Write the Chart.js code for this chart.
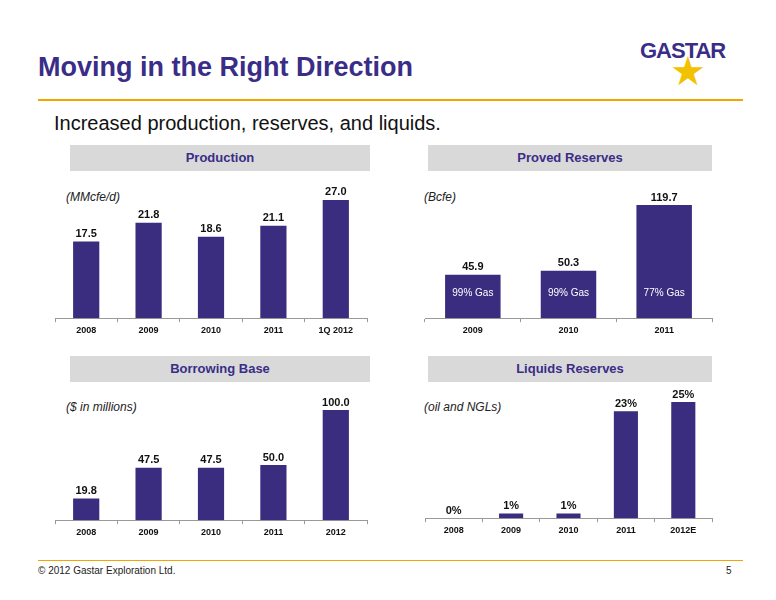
<!DOCTYPE html>
<html><head><meta charset="utf-8">
<script src="https://cdn.jsdelivr.net/npm/chart.js@4"></script>
<style>
body{margin:0;width:776px;height:600px;background:#fff;font-family:"Liberation Sans",Arial,sans-serif;position:relative;overflow:hidden}
.abs{position:absolute}
.hdr{position:absolute;background:#d9d9d9;color:#3a2d87;font-weight:bold;font-size:13px;text-align:center;line-height:26px;height:26px}
.unit{position:absolute;font-style:italic;font-size:12px;color:#222}
</style></head><body>
<div class="abs" style="left:38px;top:52px;font-size:27px;font-weight:bold;color:#3a2d87">Moving in the Right Direction</div>
<div class="abs" style="left:640px;top:38px;font-size:22px;font-weight:bold;color:#3a2d87;letter-spacing:-1px">GASTAR</div>
<div class="abs" style="left:670px;top:48px;font-size:40px;color:#f2c200">★</div>
<div class="abs" style="left:38px;top:99px;width:705px;height:2px;background:#f0a500"></div>
<div class="abs" style="left:54px;top:112px;font-size:20px;color:#111">Increased production, reserves, and liquids.</div>
<div class="hdr" style="left:70px;top:145px;width:300px">Production</div>
<div class="hdr" style="left:428px;top:145px;width:284px">Proved Reserves</div>
<div class="hdr" style="left:70px;top:356px;width:300px">Borrowing Base</div>
<div class="hdr" style="left:428px;top:356px;width:284px">Liquids Reserves</div>
<div class="unit" style="left:66px;top:190px">(MMcfe/d)</div>
<div class="unit" style="left:424px;top:190px">(Bcfe)</div>
<div class="unit" style="left:66px;top:400px">($ in millions)</div>
<div class="unit" style="left:424px;top:400px">(oil and NGLs)</div>
<canvas id="c1" class="abs" style="left:50px;top:180px"></canvas>
<canvas id="c2" class="abs" style="left:420px;top:180px"></canvas>
<canvas id="c3" class="abs" style="left:50px;top:390px"></canvas>
<canvas id="c4" class="abs" style="left:420px;top:390px"></canvas>
<div class="abs" style="left:38px;top:560px;width:705px;height:1px;background:#f0a500"></div>
<div class="abs" style="left:38px;top:565px;font-size:10px;color:#222">© 2012 Gastar Exploration Ltd.</div>
<div class="abs" style="left:726px;top:565px;font-size:10px;color:#222">5</div>
<script>
const prodCats=["2008","2009","2010","2011","1Q 2012"];
const prodVals=[17.5,21.8,18.6,21.1,27.0];
const resCats=["2009","2010","2011"];
const resVals=[45.9,50.3,119.7];
const resInner=["99% Gas","99% Gas","77% Gas"];
const bbCats=["2008","2009","2010","2011","2012"];
const bbVals=[19.8,47.5,47.5,50.0,100.0];
const liqCats=["2008","2009","2010","2011","2012E"];
const liqVals=[0,1,1,23,25];

const cfg={};
const labelPlugin={id:'lbl',afterDatasetsDraw(ch){
  const o=cfg[ch.canvas.id]; const ctx=ch.ctx;
  const meta=ch.getDatasetMeta(0);
  ctx.save();ctx.textAlign='center';
  meta.data.forEach((b,i)=>{
    ctx.fillStyle='#111';ctx.font='bold 11px "Liberation Sans",Arial';ctx.textBaseline='bottom';
    const v=ch.data.datasets[0].data[i];
    ctx.fillText(o.pct?v+'%':v.toFixed(1),b.x,b.y-2);
    if(o.inner){ctx.fillStyle='#fff';ctx.font='10px "Liberation Sans",Arial';ctx.textBaseline='middle';
      ctx.fillText(o.inner[i],b.x,ch.scales.y.getPixelForValue(0)-25);}
  });
  ctx.restore();}};

function mk(id,w,h,cats,vals,max,bp,pct,inner){
  cfg[id]={pct,inner};
  const cv=document.getElementById(id);cv.width=w;cv.height=h;cv.style.width=w+'px';cv.style.height=h+'px';
  new Chart(cv,{type:'bar',data:{labels:cats,datasets:[{data:vals,backgroundColor:'#3a2d7f',barPercentage:bp,categoryPercentage:1}]},
  options:{responsive:false,animation:false,layout:{padding:{top:5,left:5,right:5}},
   plugins:{legend:{display:false},tooltip:{enabled:false}},
   scales:{y:{display:false,min:0,max},
     x:{grid:{display:true,drawOnChartArea:false,tickLength:4,color:'#999'},border:{color:'#999'},
        ticks:{color:'#111',font:{family:'"Liberation Sans",Arial',size:9,weight:'bold'}}}}},
  plugins:[labelPlugin]});
}
mk('c1',322,159,prodCats,prodVals,30.4,0.42,false);
mk('c2',297,159,resCats,resVals,141,0.58,false,resInner);
mk('c3',322,151,bbCats,bbVals,113.6,0.42,false);
mk('c4',297,149,liqCats,liqVals,26.5,0.42,true);
</script></body></html>
